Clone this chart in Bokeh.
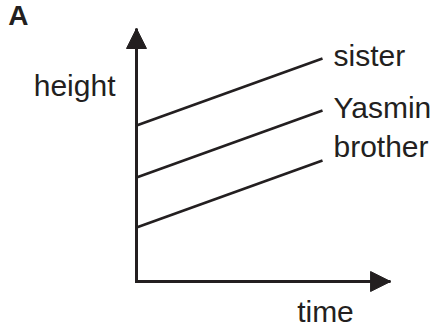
from bokeh.plotting import figure
from bokeh.models import Range1d, Arrow, NormalHead, Label, ColumnDataSource
from bokeh.core.properties import value
from bokeh.embed import file_html
from bokeh.resources import INLINE

# ---- data ----
time = [0, 10]
sister = [15.6, 22.3]
yasmin = [10.4, 17.1]
brother = [5.4, 12.1]
series_names = ["sister", "Yasmin", "brother"]
series_values = [sister, yasmin, brother]
label_dy = [-3, -3, -14]       # pixel nudges for the end labels
time_max = 13.66               # arrow tip of time axis
height_max = 25.3              # arrow tip of height axis

INK = "#231f20"
FONT = "Liberation Sans"

p = figure(width=438, height=328, output_backend="svg", toolbar_location=None,
           x_range=Range1d(-7.312, 16.237), y_range=Range1d(-4.7, 28.1),
           min_border=0, outline_line_color=None)
p.axis.visible = False
p.grid.visible = False
p.background_fill_color = "white"
p.border_fill_color = "white"

# axes (L shape)
p.line([0, 0, time_max], [height_max, 0, 0], line_color=INK, line_width=3,
       line_join="miter")
for xe, ye in [(0, height_max), (time_max, 0)]:
    p.add_layout(Arrow(end=NormalHead(size=20, fill_color=INK, line_color=INK, line_width=1),
                       x_start=0, y_start=0, x_end=xe, y_end=ye,
                       line_alpha=0))

# series lines
for vals in series_values:
    p.line(time, vals, line_color=INK, line_width=2.7)

# end labels
src = ColumnDataSource(dict(x=[time[-1]] * 3, y=[v[-1] for v in series_values],
                            t=series_names, dy=label_dy))
p.text(x="x", y="y", text="t", source=src, x_offset=11, y_offset="dy",
       text_font=value(FONT), text_font_size="30px", text_color=INK,
       text_baseline="alphabetic", text_align="left")

# axis titles and panel letter
p.add_layout(Label(x=-1.13, y=19.6, text="height", text_font=FONT, text_font_size="30px",
                   text_color=INK, text_align="right", text_baseline="alphabetic"))
p.add_layout(Label(x=10.16, y=-3.0, text="time", text_font=FONT, text_font_size="30px",
                   text_color=INK, text_align="center", text_baseline="alphabetic"))
p.add_layout(Label(x=-6.9, y=26.6, text="A", text_font=FONT, text_font_size="28px",
                   text_font_style="bold", text_color=INK, text_align="left",
                   text_baseline="alphabetic"))

open("out.html", "w").write(file_html(p, INLINE))
